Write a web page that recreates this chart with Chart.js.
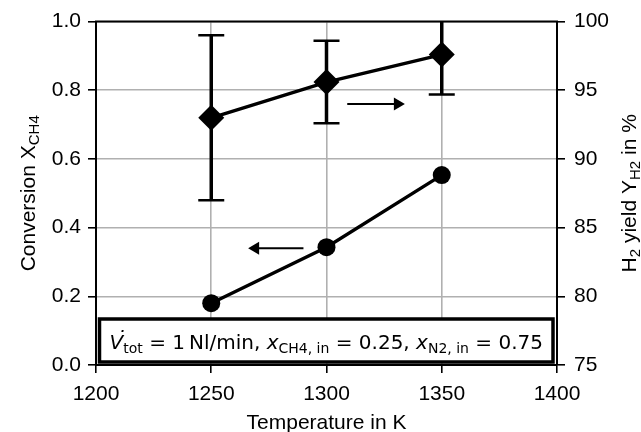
<!DOCTYPE html>
<html>
<head>
<meta charset="utf-8">
<script src="https://cdn.jsdelivr.net/npm/chart.js@4"></script>
<style>
  html, body { margin: 0; padding: 0; background: #fff; }
  #wrap { width: 641px; height: 432px; }
</style>
</head>
<body>
<div id="wrap"><canvas id="c" width="641" height="432"></canvas></div>
<script>
const temps = [1250, 1300, 1350]
const conversion = [0.18, 0.343, 0.553]
const h2Yield = [93.0, 95.6, 97.6]
const yieldLow = [87.0, 92.6, 94.7]
const yieldHigh = [99.0, 98.6, 100.5]

// arrows in data coords: [xTail, xHead, y(left axis)]
const arrowRight = [1309, 1334, 0.76]
const arrowLeft = [1290, 1266, 0.34]

const TICK_FONT = { family: "'Liberation Sans', Arial, sans-serif", size: 21 }
const SANS = "'Liberation Sans', Arial, sans-serif"
const MATH = "'DejaVu Sans', sans-serif"

function drawRich(ctx, parts, x, y, align) {
  let w = 0
  parts.forEach(p => { ctx.font = p.f; p.w = ctx.measureText(p.t).width; w += p.w })
  let cx = align === 'center' ? x - w / 2 : x
  ctx.textAlign = 'left'
  ctx.textBaseline = 'alphabetic'
  parts.forEach(p => {
    ctx.font = p.f
    ctx.fillText(p.t, cx, y + (p.dy || 0))
    if (p.dot) {
      ctx.fillText('\u02D9', cx + p.w * 0.45, y - 4)
    }
    cx += p.w
  })
  return w
}

const extrasPlugin = {
  id: 'extras',
  beforeDatasetsDraw(chart) {
    const ctx = chart.ctx
    const xs = chart.scales.x
    const y1 = chart.scales.y1
    const area = chart.chartArea
    ctx.save()
    ctx.beginPath()
    ctx.rect(area.left, area.top, area.right - area.left, area.bottom - area.top)
    ctx.clip()
    ctx.strokeStyle = '#000'
    temps.forEach((t, i) => {
      const px = xs.getPixelForValue(t)
      const top = y1.getPixelForValue(yieldHigh[i])
      const bot = y1.getPixelForValue(yieldLow[i])
      ctx.lineWidth = 3.5
      ctx.beginPath()
      ctx.moveTo(px, top)
      ctx.lineTo(px, bot)
      ctx.stroke()
      ctx.lineWidth = 2.5
      ctx.beginPath()
      ctx.moveTo(px - 13, top)
      ctx.lineTo(px + 13, top)
      ctx.moveTo(px - 13, bot)
      ctx.lineTo(px + 13, bot)
      ctx.stroke()
    })
    ctx.restore()
  },
  afterDraw(chart) {
    const ctx = chart.ctx
    const area = chart.chartArea
    const xs = chart.scales.x
    const ys = chart.scales.y
    ctx.save()
    ctx.fillStyle = '#000'
    ctx.strokeStyle = '#000'

    // top spine
    ctx.lineWidth = 2
    ctx.beginPath()
    ctx.moveTo(area.left - 1, area.top)
    ctx.lineTo(area.right + 1, area.top)
    ctx.stroke()

    // arrows
    ;[arrowRight, arrowLeft].forEach(a => {
      const x0 = xs.getPixelForValue(a[0])
      const x1 = xs.getPixelForValue(a[1])
      const py = ys.getPixelForValue(a[2])
      const dir = Math.sign(x1 - x0)
      ctx.lineWidth = 2.2
      ctx.beginPath()
      ctx.moveTo(x0, py)
      ctx.lineTo(x1 - dir * 8, py)
      ctx.stroke()
      ctx.beginPath()
      ctx.moveTo(x1, py)
      ctx.lineTo(x1 - dir * 11, py - 6.5)
      ctx.lineTo(x1 - dir * 11, py + 6.5)
      ctx.closePath()
      ctx.fill()
    })

    // annotation box
    const bx = area.left + 3.5, by = area.bottom - 46, bw = area.right - area.left - 7.5, bh = 43
    ctx.fillStyle = '#fff'
    ctx.fillRect(bx, by, bw, bh)
    ctx.lineWidth = 3.5
    ctx.strokeRect(bx, by, bw, bh)
    ctx.fillStyle = '#000'
    const it = 'oblique 20px ' + MATH, rm = '20px ' + MATH, sb = '14px ' + MATH
    drawRich(ctx, [
      { t: 'V', f: it, dot: true },
      { t: 'tot', f: sb, dy: 4 },
      { t: ' = 1\u2009Nl/min, ', f: rm },
      { t: 'x', f: it },
      { t: 'CH4, in', f: sb, dy: 4 },
      { t: ' = 0.25, ', f: rm },
      { t: 'x', f: it },
      { t: 'N2, in', f: sb, dy: 4 },
      { t: ' = 0.75', f: rm }
    ], (bx + bx + bw) / 2, by + 30, 'center')

    // axis titles
    const mid = (area.top + area.bottom) / 2
    ctx.save()
    ctx.translate(35, mid)
    ctx.rotate(-Math.PI / 2)
    drawRich(ctx, [
      { t: 'Conversion X', f: '21px ' + SANS },
      { t: 'CH4', f: '15px ' + SANS, dy: 4 }
    ], 0, 0, 'center')
    ctx.restore()

    ctx.save()
    ctx.translate(636, mid)
    ctx.rotate(-Math.PI / 2)
    drawRich(ctx, [
      { t: 'H', f: '21px ' + SANS },
      { t: '2', f: '15px ' + SANS, dy: 4 },
      { t: ' yield Y', f: '21px ' + SANS },
      { t: 'H2', f: '15px ' + SANS, dy: 4 },
      { t: ' in %', f: '21px ' + SANS }
    ], 0, 0, 'center')
    ctx.restore()

    ctx.font = '21px ' + SANS
    ctx.textAlign = 'center'
    ctx.fillText('Temperature in K', (area.left + area.right) / 2, 429)
    ctx.restore()
  }
}

const gridOpts = { color: '#b0b0b0', lineWidth: 1.6, tickColor: '#000', tickLength: 8, tickWidth: 1.6 }

new Chart(document.getElementById('c'), {
  type: 'line',
  data: {
    datasets: [
      {
        label: 'Conversion',
        data: temps.map((t, i) => ({ x: t, y: conversion[i] })),
        yAxisID: 'y',
        borderColor: '#000',
        backgroundColor: '#000',
        borderWidth: 3.4,
        pointStyle: 'circle',
        pointRadius: 9,
        pointBorderWidth: 0
      },
      {
        label: 'H2 yield',
        data: temps.map((t, i) => ({ x: t, y: h2Yield[i] })),
        yAxisID: 'y1',
        borderColor: '#000',
        backgroundColor: '#000',
        borderWidth: 3.4,
        pointStyle: 'rectRot',
        pointRadius: 13,
        pointBorderWidth: 0
      }
    ]
  },
  options: {
    responsive: false,
    animation: false,
    events: [],
    layout: { padding: { top: 20, left: 0, right: 0, bottom: 0 } },
    plugins: { legend: { display: false }, tooltip: { enabled: false } },
    scales: {
      x: {
        type: 'linear', min: 1200, max: 1400,
        ticks: { stepSize: 50, font: TICK_FONT, color: '#000', padding: 9, maxRotation: 0, callback: v => String(v) },
        grid: gridOpts,
        border: { color: '#000', width: 2 },
        afterFit(s) { s.height = 67 }
      },
      y: {
        type: 'linear', position: 'left', min: 0, max: 1,
        ticks: { stepSize: 0.2, font: TICK_FONT, color: '#000', padding: 7, callback: v => v.toFixed(1) },
        grid: gridOpts,
        border: { color: '#000', width: 2 },
        afterFit(s) { s.width = 96 }
      },
      y1: {
        type: 'linear', position: 'right', min: 75, max: 100,
        ticks: { stepSize: 5, font: TICK_FONT, color: '#000', padding: 9, callback: v => String(v) },
        grid: Object.assign({}, gridOpts, { drawOnChartArea: false }),
        border: { color: '#000', width: 2 },
        afterFit(s) { s.width = 84 }
      }
    }
  },
  plugins: [extrasPlugin]
})
</script>
</body>
</html>
